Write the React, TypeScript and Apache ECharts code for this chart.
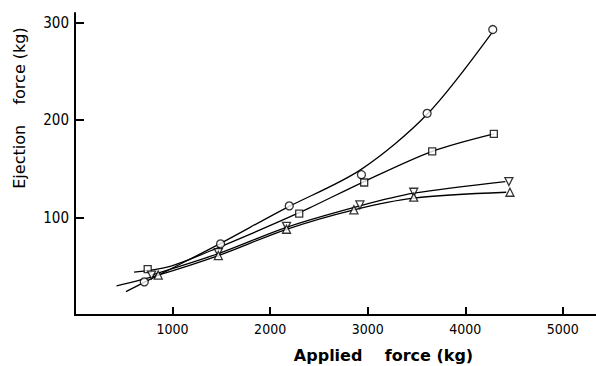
import React, { useEffect, useRef } from "react";
import * as echarts from "echarts";

// Measured points (applied force kg, ejection force kg)
const circlePoints: number[][] = [[710, 34], [1492, 73], [2196, 112], [2936, 144], [3609, 207], [4282, 293]];
const squarePoints: number[][] = [[745, 47], [2298, 104], [2964, 136], [3661, 168], [4293, 186]];
const triDownPoints: number[][] = [[785, 41], [1469, 64], [2168, 91], [2920, 113], [3472, 126], [4447, 137]];
const triUpPoints: number[][] = [[853, 41], [1469, 61], [2168, 88], [2859, 108], [3472, 121], [4458, 126]];

// Fitted curves
const circleCurve: number[][] = [[522, 24], [975, 47], [1463, 72], [2146, 109], [2926, 149], [3609, 206], [4282, 291]];
const squareCurve: number[][] = [[605, 44], [975, 50], [1463, 69], [2298, 105], [2964, 137], [3661, 168], [4293, 186]];
const triDownCurve: number[][] = [[785, 41], [1469, 63], [2168, 90], [2920, 112], [3472, 125], [4410, 137]];
const triUpCurve: number[][] = [[426, 30], [853, 41], [1469, 61], [2168, 88], [2859, 108], [3472, 120], [4420, 126]];

const xTicks = [1000, 2000, 3000, 4000, 5000];
const yTicks = [100, 200, 300];

const FONT = "'DejaVu Sans Condensed', 'DejaVu Sans', sans-serif";
const FONT_REG = "'DejaVu Sans', sans-serif";

export default function App() {
  const ref = useRef<HTMLDivElement>(null);
  useEffect(() => {
    if (!ref.current) return;
    const chart = echarts.init(ref.current, undefined, { renderer: "svg" });
    const lineSeries = (data: number[][]) => ({
      type: "line",
      data,
      smooth: 0.3,
      showSymbol: false,
      symbol: "none",
      lineStyle: { color: "#000", width: 1.3 },
      z: 2,
      silent: true,
    });
    const markerSeries = (name: string, data: number[][], symbol: string, size: number, rotate = 0) => ({
      type: "scatter",
      name,
      data,
      symbol,
      symbolSize: size,
      symbolRotate: rotate,
      itemStyle: { color: "#fff", borderColor: "#000", borderWidth: 1.3 },
      z: 5,
    });
    const fmt = (v: number) => String(v);
    chart.setOption({
      animation: false,
      backgroundColor: "#fff",
      grid: { left: 75, right: 0, top: 13, bottom: 51, outerBoundsMode: "none", containLabel: false },
      xAxis: {
        type: "value",
        min: 0,
        max: 5340,
        interval: 1000,
        name: "Applied    force (kg)",
        nameLocation: "middle",
        nameGap: 32,
        nameTextStyle: { fontFamily: FONT_REG, fontSize: 16, fontWeight: "bold", color: "#000", padding: [0, 0, 0, 96] },
        axisLine: { lineStyle: { color: "#000", width: 2 } },
        axisTick: { inside: true, length: 8, customValues: xTicks, lineStyle: { color: "#000", width: 2 } },
        axisLabel: { customValues: xTicks, formatter: fmt, fontFamily: FONT, fontSize: 14, color: "#000", margin: 7 },
        splitLine: { show: false },
      },
      yAxis: {
        type: "value",
        min: 0,
        max: 310,
        interval: 100,
        name: "Ejection    force (kg)",
        nameLocation: "middle",
        nameRotate: 90,
        nameGap: 48,
        nameTextStyle: { fontFamily: FONT_REG, fontSize: 16, color: "#000", padding: [0, 0, 0, 112] },
        axisLine: { lineStyle: { color: "#000", width: 2 } },
        axisTick: { inside: true, length: 9, customValues: yTicks, lineStyle: { color: "#000", width: 2 } },
        axisLabel: { customValues: yTicks, formatter: fmt, fontFamily: FONT, fontSize: 15, color: "#000", margin: 6 },
        splitLine: { show: false },
      },
      series: [
        lineSeries(circleCurve),
        lineSeries(squareCurve),
        lineSeries(triDownCurve),
        lineSeries(triUpCurve),
        markerSeries("circle", circlePoints, "circle", 8),
        markerSeries("square", squarePoints, "rect", 7),
        markerSeries("triangle down", triDownPoints, "triangle", 8, 180),
        markerSeries("triangle up", triUpPoints, "triangle", 8),
      ],
    });
    return () => chart.dispose();
  }, []);
  return (
    <div
      ref={ref}
      style={{ position: "fixed", left: 0, top: 0, width: 596, height: 366, background: "#fff" }}
    />
  );
}
